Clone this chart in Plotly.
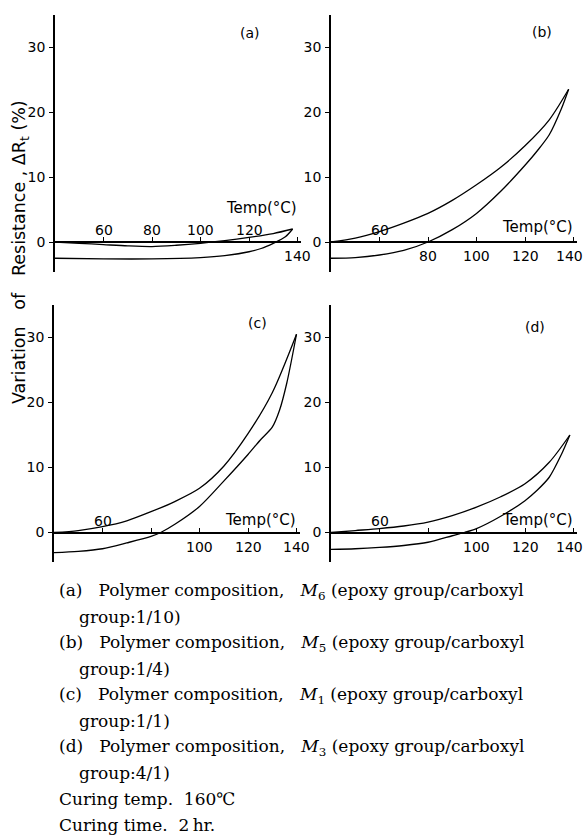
import plotly.graph_objects as go

# ---------------- data ----------------
a_up_T = [40, 50, 60, 70, 80, 90, 100, 110, 120, 130, 138]
a_up_V = [0, -0.2, -0.4, -0.6, -0.7, -0.5, -0.2, 0.2, 0.7, 1.3, 2.0]
a_dn_T = [138, 135, 130, 125, 120, 110, 100, 80, 60, 40]
a_dn_V = [2.0, 0.8, -0.2, -1.0, -1.5, -2.1, -2.4, -2.6, -2.6, -2.5]

b_up_T = [40, 50, 60, 70, 80, 90, 100, 110, 120, 130, 138]
b_up_V = [0, 0.6, 1.6, 2.9, 4.4, 6.4, 8.8, 11.5, 14.8, 18.8, 23.5]
b_dn_T = [138, 135, 130, 125, 120, 110, 100, 90, 80, 70, 60, 50, 40]
b_dn_V = [23.5, 20.5, 16.5, 14.0, 11.8, 7.8, 4.4, 1.9, 0, -1.3, -2.0, -2.4, -2.5]

c_up_T = [40, 50, 60, 70, 80, 90, 100, 110, 120, 130, 140]
c_up_V = [0, 0.3, 0.9, 1.8, 3.2, 4.8, 6.8, 10.2, 15.2, 21.5, 30.5]
c_dn_T = [140, 136, 133, 130, 125, 120, 110, 100, 90, 84, 80, 70, 60, 50, 40]
c_dn_V = [30.5, 23.0, 18.8, 16.2, 14.2, 12.0, 7.9, 4.0, 1.3, 0, -0.6, -1.6, -2.5, -2.9, -3.1]

d_up_T = [40, 50, 60, 70, 80, 90, 100, 110, 120, 130, 138.5]
d_up_V = [0, 0.3, 0.6, 1.0, 1.6, 2.6, 3.9, 5.5, 7.5, 10.8, 15.0]
d_dn_T = [138.5, 135, 130, 125, 120, 110, 100, 95, 90, 80, 70, 60, 50, 40]
d_dn_V = [15.0, 12.0, 8.5, 6.5, 4.9, 2.5, 0.6, 0, -0.5, -1.5, -2.0, -2.3, -2.5, -2.6]

y_ticks = [0, 10, 20, 30]
x_ticks = [60, 80, 100, 120, 140]
a_lab_above = [60, 80, 100, 120]
a_lab_below = [140]
b_lab_above = [60]
b_lab_below = [80, 100, 120, 140]
c_lab_above = [60]
c_lab_below = [100, 120, 140]
d_lab_above = [60]
d_lab_below = [100, 120, 140]

panel_names = ["(a)", "(b)", "(c)", "(d)"]
x_title = "Temp(°C)"
NB = "\u00a0"
y_title = f"Variation{NB*3}of{NB*3}Resistance{NB}, ΔR<sub>t</sub> (%)"

caption_lines = [
    (f"(a){NB*3}Polymer composition,{NB*3}<i>M</i><sub>6</sub> (epoxy group/carboxyl", 0),
    ("group:1/10)", 1),
    (f"(b){NB*3}Polymer composition,{NB*3}<i>M</i><sub>5</sub> (epoxy group/carboxyl", 0),
    ("group:1/4)", 1),
    (f"(c){NB*3}Polymer composition,{NB*3}<i>M</i><sub>1</sub> (epoxy group/carboxyl", 0),
    ("group:1/1)", 1),
    (f"(d){NB*3}Polymer composition,{NB*3}<i>M</i><sub>3</sub> (epoxy group/carboxyl", 0),
    ("group:4/1)", 1),
    (f"Curing temp.{NB*2}160℃", 0),
    (f"Curing time.{NB*2}2\u2009hr.", 0),
]

# ---------------- layout geometry ----------------
W, H = 584, 835
X_RANGE = [40, 141.5]
Y_RANGE = [-4.6, 35]
PX_PER_C = 2.425
PX_PER_V = 6.5
plot_w = (X_RANGE[1] - X_RANGE[0]) * PX_PER_C
plot_h = (Y_RANGE[1] - Y_RANGE[0]) * PX_PER_V

panels = [
    dict(left=55, zero=242, up=(a_up_T, a_up_V), dn=(a_dn_T, a_dn_V),
         above=a_lab_above, below=a_lab_below, tshift=34, name_pos=(250, 33)),
    dict(left=331, zero=242, up=(b_up_T, b_up_V), dn=(b_dn_T, b_dn_V),
         above=b_lab_above, below=b_lab_below, tshift=15, name_pos=(542, 32)),
    dict(left=54, zero=532.5, up=(c_up_T, c_up_V), dn=(c_dn_T, c_dn_V),
         above=c_lab_above, below=c_lab_below, tshift=13, name_pos=(257, 323)),
    dict(left=331, zero=532.5, up=(d_up_T, d_up_V), dn=(d_dn_T, d_dn_V),
         above=d_lab_above, below=d_lab_below, tshift=13, name_pos=(535, 327)),
]

TICK_FONT = dict(family="DejaVu Sans", size=14, color="black")
LINE = dict(color="black", width=1.3, shape="spline", smoothing=0.8)

fig = go.Figure()
annotations = []
layout = {}

for i, p in enumerate(panels):
    k = "" if i == 0 else str(i + 1)
    xa, ya = "x" + k, "y" + k
    top_px = p["zero"] - Y_RANGE[1] * PX_PER_V
    bot_px = top_px + plot_h
    xdom = [p["left"] / W, (p["left"] + plot_w) / W]
    ydom = [1 - bot_px / H, 1 - top_px / H]
    zero_frac = 1 - p["zero"] / H

    for T, V in (p["up"], p["dn"]):
        fig.add_trace(go.Scatter(x=T, y=V, mode="lines", line=LINE,
                                 xaxis=xa, yaxis=ya, showlegend=False,
                                 hoverinfo="skip"))

    layout["xaxis" + k] = dict(
        domain=xdom, range=X_RANGE, anchor="free", position=zero_frac,
        showline=True, linecolor="black", linewidth=1.5,
        tickmode="array", tickvals=x_ticks, ticks="inside", ticklen=4,
        tickcolor="black", tickwidth=1, showticklabels=False,
        showgrid=False, zeroline=False, fixedrange=True)
    layout["yaxis" + k] = dict(
        domain=ydom, range=Y_RANGE, anchor=xa,
        showline=True, linecolor="black", linewidth=1.5,
        tickmode="array", tickvals=y_ticks, ticks="outside", ticklen=4,
        tickcolor="black", tickwidth=1, tickfont=TICK_FONT, ticklabelstandoff=1,
        showgrid=False, zeroline=False, fixedrange=True)

    right_panel = p["left"] > W / 2
    for t in p["above"]:
        annotations.append(dict(x=t, y=0, xref=xa, yref=ya, text=str(t),
                                showarrow=False, xanchor="center",
                                yanchor="bottom", yshift=2, font=TICK_FONT))
    for t in p["below"]:
        edge = right_panel and t == max(p["below"])
        annotations.append(dict(x=t, y=0, xref=xa, yref=ya, text=str(t),
                                showarrow=False, xanchor="center",
                                yanchor="top", yshift=-4,
                                xshift=-4 if edge else 0, font=TICK_FONT))
    annotations.append(dict(x=1, y=0, xref=xa + " domain", yref=ya, text=x_title,
                            showarrow=False, xanchor="right", yanchor="middle",
                            yshift=p["tshift"], xshift=-2,
                            font=dict(family="DejaVu Sans", size=15, color="black")))
    nx, ny = p["name_pos"]
    annotations.append(dict(x=nx / W, y=1 - ny / H, xref="paper", yref="paper",
                            text=panel_names[i], showarrow=False,
                            xanchor="center", yanchor="middle",
                            font=dict(family="DejaVu Sans", size=14, color="black")))

# y-axis title
annotations.append(dict(x=21 / W, y=1 - 252 / H, xref="paper", yref="paper",
                        text=y_title, textangle=-90, showarrow=False,
                        xanchor="center", yanchor="middle",
                        font=dict(family="DejaVu Sans", size=17.5, color="black")))

# caption
for j, (txt, indent) in enumerate(caption_lines):
    ypx = 591 + 26 * j
    xpx = 57 + 20 * indent
    annotations.append(dict(x=xpx / W, y=1 - ypx / H, xref="paper", yref="paper",
                            text=txt, showarrow=False, xanchor="left",
                            yanchor="middle", align="left",
                            font=dict(family="DejaVu Serif", size=17, color="black")))

fig.update_layout(**layout)
fig.update_layout(width=W, height=H, autosize=False,
                  margin=dict(l=0, r=0, t=0, b=0),
                  paper_bgcolor="white", plot_bgcolor="white",
                  annotations=annotations, showlegend=False)

fig.write_html("out.html", include_plotlyjs=True, config={"displayModeBar": False})
